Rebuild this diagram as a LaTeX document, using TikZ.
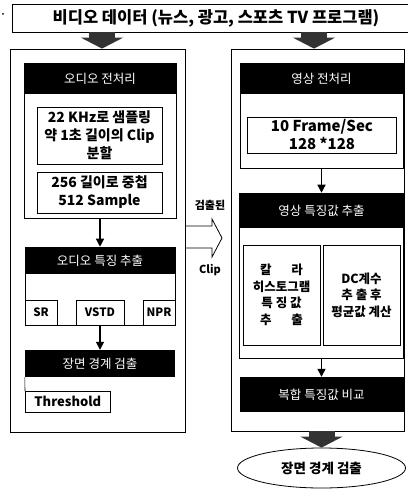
\documentclass[tikz,border=0pt]{standalone}
\usepackage{fontspec}
\setmainfont{Noto Sans CJK KR}
\usetikzlibrary{arrows.meta,positioning,shapes.geometric}

\tikzset{
  frame/.style={draw, line width=0.8pt, inner sep=0pt},
  panel/.style={draw, line width=0.6pt, inner sep=0pt},
  header/.style={fill=black, text=white, inner sep=0pt, font=\fontsize{12.5}{14}\selectfont},
  textbox/.style={draw, line width=0.6pt, inner sep=0pt, align=center,
    font=\bfseries\fontsize{14}{18}\selectfont},
  smallbox/.style={draw, line width=0.6pt, inner sep=0pt, font=\bfseries\fontsize{11.5}{12}\selectfont},
  smallarrow/.style={line width=1.4pt, -{Triangle[length=8pt,width=8pt]}},
  bigarrow/.style={draw=black!80, line width=26pt, -{Triangle[length=11pt,width=42pt]}},
}

\begin{document}
\begin{tikzpicture}[x=1pt,y=-1pt]
  \useasboundingbox (0,0) rectangle (407,489);
  \fill (3,14) circle (1pt);

  % input
  \node[frame, minimum width=408, minimum height=28,
        font=\bfseries\fontsize{16.5}{18}\selectfont] (title) at (216,18)
    {비디오 데이터 (뉴스, 광고, 스포츠 TV 프로그램)};

  % audio side
  \node[frame, minimum width=175, minimum height=383] (leftbox) at (97.5,240.5) {};
  \node[panel, minimum width=152, minimum height=155] (apre) at (100,140.5) {};
  \node[header, minimum width=152, minimum height=31, anchor=north] (apreh) at (apre.north) {오디오 전처리};
  \node[textbox, minimum width=125, minimum height=57] (sample) at (99.5,135.5)
    {22 KHz로 샘플링\\약 1초 길이의 Clip\\분할};
  \node[textbox, minimum width=125, minimum height=41] (overlap) at (99.5,192.5)
    {256 길이로 중첩\\512 Sample};

  \node[panel, minimum width=150, minimum height=78] (afeat) at (100,286) {};
  \node[header, minimum width=150, minimum height=27, anchor=north] (afeath) at (afeat.north) {오디오 특징 추출};
  \node[smallbox, minimum width=32, minimum height=25, anchor=south west] (sr) at (afeat.south west) {SR};
  \node[smallbox, minimum width=48, minimum height=25, anchor=south] (vstd) at (afeat.south) {VSTD};
  \node[smallbox, minimum width=32, minimum height=25, anchor=south east] (npr) at (afeat.south east) {NPR};

  \node[header, minimum width=150, minimum height=27] (scene) at (100,363.5) {장면 경계 검출};
  \node[smallbox, minimum width=85, minimum height=21, anchor=north west,
        font=\bfseries\fontsize{13}{14}\selectfont] (thresh) at (25,391) {Threshold};
  \draw[line width=0.6pt] (scene.south west) -- (thresh.north west);

  \draw[smallarrow] (apre.south) -- (afeath.north);
  \draw[smallarrow] (vstd.south) -- (scene.north);

  % video side
  \node[frame, minimum width=173, minimum height=382] (rightbox) at (317.5,240) {};
  \node[panel, minimum width=163, minimum height=105] (vpre) at (321.5,115.5) {};
  \node[header, minimum width=163, minimum height=31, anchor=north] (vpreh) at (vpre.north) {영상 전처리};
  \node[textbox, minimum width=149, minimum height=36, font=\bfseries\fontsize{15}{18}\selectfont]
    (frames) at (322,135) {10 Frame/Sec\\128 *128};

  \node[panel, minimum width=164, minimum height=165] (vfeat) at (321.5,275.5) {};
  \node[header, minimum width=164, minimum height=35, anchor=north] (vfeath) at (vfeat.north) {영상 특징값 추출};
  \node[textbox, minimum width=77, minimum height=100, font=\bfseries\fontsize{12.5}{16.5}\selectfont]
    (color) at (281.5,295) {칼\hspace{1.6em}라\\히스토그램\\특 징 값\\추\hspace{1.6em}출};
  \node[textbox, minimum width=77, minimum height=100, font=\bfseries\fontsize{12.5}{16.5}\selectfont]
    (dc) at (361.5,295) {DC계수\\추 출 후\\평균값 계산};

  \node[header, minimum width=164, minimum height=35] (comb) at (321.5,394.5) {복합 특징값 비교};
  \draw[smallarrow] (vpre.south) -- (vfeath.north);
  \draw[smallarrow] (vfeat.south) -- (comb.north);

  \node[frame, ellipse, minimum width=168, minimum height=40,
        font=\bfseries\fontsize{13.5}{15}\selectfont] (goal) at (321.5,468) {장면 경계 검출};

  % block arrows
  \draw[bigarrow] (102,0 |- title.south) -- (102,0 |- leftbox.north);
  \draw[bigarrow] (314,0 |- title.south) -- (314,0 |- rightbox.north);
  \draw[bigarrow] (goal.north |- rightbox.south) -- (goal.north);

  % detected clip
  \draw[line width=0.8pt] (leftbox.east |- 0,226) -- (212,226) -- (212,219) -- (222,238)
    -- (212,257) -- (212,248) -- (leftbox.east |- 0,248);
  \node[font=\bfseries\fontsize{11}{12}\selectfont] (detlbl) at (210,205) {검출된};
  \node[font=\bfseries\fontsize{11}{12}\selectfont] (cliplbl) at (210,270) {Clip};
\end{tikzpicture}
\end{document}
